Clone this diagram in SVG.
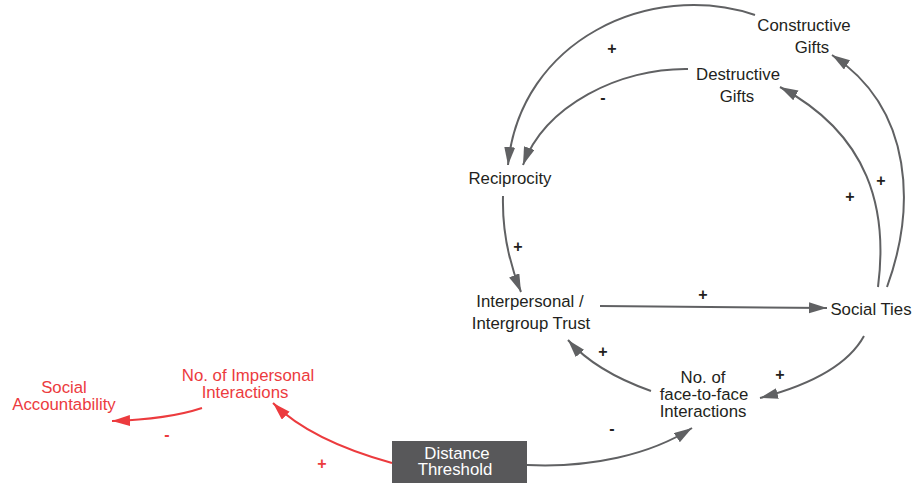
<svg xmlns="http://www.w3.org/2000/svg" width="915" height="483" viewBox="0 0 915 483">
  <style>
    .lbl { font-family: "Liberation Sans", Arial, sans-serif; font-size: 16.8px; fill: #231f20; text-anchor: middle; }
    .red { fill: #ec3b3e; }
    .wht { fill: #ffffff; }
    .edge { fill: none; stroke: #606163; stroke-width: 2; marker-end: url(#ah); }
    .edge.r { stroke: #ec3b3e; marker-end: url(#ahr); }
    .pol { font-family: "Liberation Sans", Arial, sans-serif; font-size: 16px; font-weight: bold; fill: #231f20; text-anchor: middle; }
    .pol.r { fill: #ec3b3e; }
  </style>
  <defs>
    <marker id="ah" markerUnits="userSpaceOnUse" markerWidth="18" markerHeight="12" refX="18" refY="5.5" orient="auto">
      <path d="M0,0 L18,5.5 L0,11 z" fill="#606163"/>
    </marker>
    <marker id="ahr" markerUnits="userSpaceOnUse" markerWidth="18" markerHeight="12" refX="18" refY="5.5" orient="auto">
      <path d="M0,0 L18,5.5 L0,11 z" fill="#ec3b3e"/>
    </marker>
  </defs>
  <rect width="915" height="483" fill="#ffffff"/>

  <g id="connectors">
    <path class="edge" d="M755,15 C650,-20 520,40 508,165"/>
    <path class="edge" d="M688,69 C620,68 545,105 523,165"/>
    <path class="edge" d="M887,287 C915,210 915,110 832,55"/>
    <path class="edge" d="M878,287 C888,210 870,135 780,87"/>
    <path class="edge" d="M503,196 C502,235 510,265 521,292"/>
    <path class="edge" d="M600,306 L827,308"/>
    <path class="edge" d="M864,336 C848,365 810,385 760,398"/>
    <path class="edge" d="M651,391 C620,380 590,365 568,340"/>
    <path class="edge" d="M527,465 C590,468 650,455 692,428"/>
    <path class="edge r" d="M392,463 C345,450 300,430 273,403"/>
    <path class="edge r" d="M202,408 C175,417 145,420 112,421"/>
  </g>

  <g id="polarities">
    <text class="pol" x="612" y="53.5">+</text>
    <text class="pol" x="603" y="103">-</text>
    <text class="pol" x="881" y="185.5">+</text>
    <text class="pol" x="850" y="202">+</text>
    <text class="pol" x="518" y="251.5">+</text>
    <text class="pol" x="703" y="299.5">+</text>
    <text class="pol" x="603" y="356.5">+</text>
    <text class="pol" x="780" y="379.5">+</text>
    <text class="pol" x="612" y="433.5">-</text>
    <text class="pol r" x="167" y="440">-</text>
    <text class="pol r" x="322" y="468.5">+</text>
  </g>

  <g id="constructive-gifts">
    <text class="lbl" x="804" y="31">Constructive</text>
    <text class="lbl" x="812" y="53">Gifts</text>
  </g>
  <g id="destructive-gifts">
    <text class="lbl" x="738" y="80">Destructive</text>
    <text class="lbl" x="737" y="102">Gifts</text>
  </g>
  <g id="reciprocity">
    <text class="lbl" x="510" y="184">Reciprocity</text>
  </g>
  <g id="trust">
    <text class="lbl" x="530" y="307">Interpersonal /</text>
    <text class="lbl" x="531" y="329">Intergroup Trust</text>
  </g>
  <g id="social-ties">
    <text class="lbl" x="871" y="315">Social Ties</text>
  </g>
  <g id="face-to-face">
    <text class="lbl" x="703" y="383">No. of</text>
    <text class="lbl" x="704" y="400">face-to-face</text>
    <text class="lbl" x="703" y="417">Interactions</text>
  </g>
  <g id="distance-threshold">
    <rect x="392" y="441" width="135" height="43" fill="#58585a"/>
    <text class="lbl wht" x="457" y="459">Distance</text>
    <text class="lbl wht" x="455" y="475">Threshold</text>
  </g>
  <g id="impersonal">
    <text class="lbl red" x="248" y="381">No. of Impersonal</text>
    <text class="lbl red" x="245" y="398">Interactions</text>
  </g>
  <g id="social-accountability">
    <text class="lbl red" x="64" y="393">Social</text>
    <text class="lbl red" x="64" y="410">Accountability</text>
  </g>
</svg>
